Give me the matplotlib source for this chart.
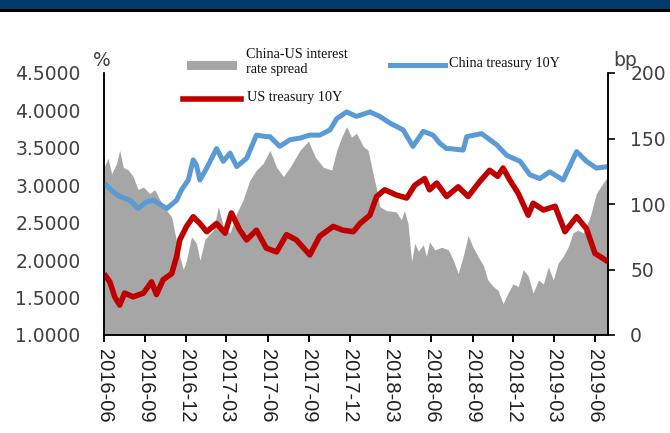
import matplotlib
matplotlib.use("Agg")
import matplotlib.pyplot as plt
import pandas as pd
from matplotlib.lines import Line2D
from matplotlib.patches import Rectangle

# ---------------- data ----------------
china_dates = ["2016-06-01","2016-06-22","2016-07-06","2016-07-29","2016-08-16","2016-09-04",
    "2016-09-19","2016-10-19","2016-11-10","2016-11-21","2016-12-06","2016-12-17","2016-12-24",
    "2017-01-01","2017-01-16","2017-02-07","2017-02-22","2017-03-09","2017-03-24","2017-04-15",
    "2017-05-07","2017-05-29","2017-06-06","2017-06-28","2017-07-21","2017-08-12","2017-09-03",
    "2017-09-25","2017-10-18","2017-11-02","2017-11-24","2017-12-16","2018-01-15","2018-02-06",
    "2018-03-01","2018-03-30","2018-04-21","2018-05-14","2018-06-05","2018-06-20","2018-07-05",
    "2018-07-12","2018-08-11","2018-08-19","2018-09-21","2018-10-25","2018-11-16","2018-12-16",
    "2019-01-07","2019-01-29","2019-02-20","2019-03-22","2019-04-21","2019-05-13","2019-06-04",
    "2019-06-30"]
china_10y = [3.03, 2.91, 2.85, 2.80, 2.69, 2.78,
    2.80, 2.69, 2.80, 2.94, 3.07, 3.34, 3.27,
    3.07, 3.23, 3.49, 3.32, 3.43, 3.25, 3.36,
    3.67, 3.65, 3.65, 3.52, 3.61, 3.63, 3.67,
    3.67, 3.74, 3.89, 3.98, 3.92, 3.98, 3.92,
    3.83, 3.74, 3.52, 3.72, 3.67, 3.56, 3.49,
    3.49, 3.47, 3.65, 3.69, 3.54, 3.40, 3.32,
    3.14, 3.09, 3.18, 3.07, 3.45, 3.32, 3.23,
    3.25]

us_dates = ["2016-06-01","2016-06-14","2016-06-25","2016-07-06","2016-07-17","2016-08-05",
    "2016-08-28","2016-09-15","2016-09-26","2016-10-11","2016-10-30","2016-11-10","2016-11-17",
    "2016-12-02","2016-12-17","2017-01-01","2017-01-16","2017-02-07","2017-02-26","2017-03-12",
    "2017-03-31","2017-04-15","2017-05-07","2017-05-29","2017-06-21","2017-07-13","2017-08-04",
    "2017-09-03","2017-09-25","2017-10-25","2017-11-16","2017-12-09","2017-12-24","2018-01-15",
    "2018-01-30","2018-02-17","2018-03-15","2018-04-07","2018-04-25","2018-05-17","2018-05-28",
    "2018-06-13","2018-07-05","2018-07-31","2018-08-22","2018-09-17","2018-10-09","2018-10-27",
    "2018-11-08","2018-11-23","2018-12-12","2019-01-03","2019-01-14","2019-02-06","2019-03-04",
    "2019-03-26","2019-04-21","2019-05-13","2019-06-01","2019-06-30"]
us_10y = [1.82, 1.71, 1.51, 1.40, 1.56, 1.51,
    1.56, 1.71, 1.54, 1.74, 1.82, 2.05, 2.27,
    2.45, 2.58, 2.49, 2.38, 2.49, 2.36, 2.63,
    2.40, 2.27, 2.40, 2.16, 2.11, 2.34, 2.27,
    2.07, 2.32, 2.45, 2.40, 2.38, 2.49, 2.60,
    2.85, 2.94, 2.87, 2.83, 3.00, 3.09, 2.94,
    3.03, 2.85, 2.98, 2.85, 3.05, 3.20, 3.12,
    3.23, 3.07, 2.89, 2.60, 2.76, 2.67, 2.72,
    2.38, 2.58, 2.42, 2.09, 1.98]

spread_dates = ["2016-06-01","2016-06-10","2016-06-18","2016-06-29","2016-07-06","2016-07-14",
    "2016-07-25","2016-08-05","2016-08-16","2016-08-28","2016-09-11","2016-09-22","2016-10-04",
    "2016-10-19","2016-10-30","2016-11-06","2016-11-17","2016-11-25","2016-12-02","2016-12-13",
    "2016-12-24","2017-01-01","2017-01-12","2017-01-31","2017-02-11","2017-02-22","2017-03-09",
    "2017-03-24","2017-04-07","2017-04-22","2017-05-07","2017-05-22","2017-06-06","2017-06-21",
    "2017-07-06","2017-07-21","2017-08-12","2017-08-31","2017-09-15","2017-10-03","2017-10-22",
    "2017-11-02","2017-11-13","2017-11-24","2017-12-05","2017-12-16","2017-12-31","2018-01-11",
    "2018-01-22","2018-01-30","2018-02-06","2018-02-21","2018-03-15","2018-03-26","2018-04-02",
    "2018-04-10","2018-04-18","2018-04-25","2018-05-03","2018-05-14","2018-05-21","2018-05-28",
    "2018-06-09","2018-06-24","2018-07-09","2018-07-20","2018-07-31","2018-08-11","2018-08-22",
    "2018-09-02","2018-09-13","2018-09-25","2018-10-05","2018-10-17","2018-10-28","2018-11-08",
    "2018-11-19","2018-11-30","2018-12-12","2018-12-23","2019-01-03","2019-01-14","2019-01-26",
    "2019-02-06","2019-02-17","2019-02-28","2019-03-11","2019-03-22","2019-04-02","2019-04-13",
    "2019-04-24","2019-05-06","2019-05-21","2019-06-04","2019-06-19","2019-06-30"]
spread_bp = [128, 135, 123, 131, 141, 128,
    126, 121, 111, 113, 108, 111, 103,
    95, 90, 78, 60, 50, 57, 75,
    70, 57, 73, 80, 98, 83, 78,
    93, 103, 118, 126, 131, 141, 128,
    121, 128, 141, 148, 136, 128, 126,
    141, 151, 159, 151, 154, 144, 141,
    123, 111, 98, 95, 94, 88, 95,
    85, 56, 70, 64, 69, 60, 71,
    65, 67, 65, 57, 47, 60, 76,
    67, 60, 53, 42, 37, 34, 24,
    32, 39, 37, 50, 45, 32, 42,
    39, 52, 42, 55, 60, 67, 78,
    80, 78, 90, 108, 116, 121]

tick_dates = ["2016-06-01","2016-09-01","2016-12-01","2017-03-01","2017-06-01","2017-09-01",
    "2017-12-01","2018-03-01","2018-06-01","2018-09-01","2018-12-01","2019-03-01","2019-06-01"]
tick_labels = ["2016-06","2016-09","2016-12","2017-03","2017-06","2017-09",
    "2017-12","2018-03","2018-06","2018-09","2018-12","2019-03","2019-06"]
left_ticks = [1.0, 1.5, 2.0, 2.5, 3.0, 3.5, 4.0, 4.5]
right_ticks = [0, 50, 100, 150, 200]

# ---------------- figure ----------------
W, H = 670, 433
fig = plt.figure(figsize=(W / 100, H / 100), dpi=100)
fig.patch.set_facecolor("white")

# header band
fig.patches.append(Rectangle((0, 1 - 9 / H), 1, 9 / H, transform=fig.transFigure,
                             facecolor="#003A6B", edgecolor="none"))
fig.patches.append(Rectangle((0, 1 - 12 / H), 1, 3 / H, transform=fig.transFigure,
                             facecolor="#000000", edgecolor="none"))

ax = fig.add_axes([104 / W, 1 - 335 / H, 504 / W, 262 / H])
ax2 = ax.twinx()

sd = pd.to_datetime(spread_dates)
cd = pd.to_datetime(china_dates)
ud = pd.to_datetime(us_dates)

ax2.fill_between(sd, 0, spread_bp, color="#A6A6A6", lw=0)
ax.plot(ud, us_10y, color="#C00000", lw=4.0, solid_capstyle="butt")
ax.plot(cd, china_10y, color="#5B9BD5", lw=3.6, solid_capstyle="butt")

ax.set_zorder(ax2.get_zorder() + 1)
ax.patch.set_visible(False)

xmin, xmax = pd.Timestamp("2016-06-01"), pd.Timestamp("2019-06-30")
ax.set_xlim(xmin, xmax)
ax.set_ylim(1.0, 4.5)
ax2.set_ylim(0, 200)

ax.set_yticks(left_ticks)
ax.set_yticklabels([f"{v:.4f}" for v in left_ticks], fontsize=13.5, color="#404040",
                   family="DejaVu Sans")
ax.tick_params(axis="y", length=0, pad=17)

ax2.set_yticks(right_ticks)
ax2.set_yticklabels([str(v) for v in right_ticks], fontsize=13.5, color="#404040",
                    family="DejaVu Sans")
ax2.tick_params(axis="y", length=5, width=1.2, pad=11, color="black")

ax.set_xticks(pd.to_datetime(tick_dates))
ax.set_xticklabels(tick_labels, rotation=-90, fontsize=14.5, color="#202020",
                   family="Liberation Sans", va="top", ha="center")
ax.tick_params(axis="x", length=5, width=1.4, pad=5, color="black")

for a in (ax, ax2):
    a.spines["top"].set_visible(False)
    for s in ("left", "right", "bottom"):
        a.spines[s].set_linewidth(1.1)
        a.spines[s].set_color("black")

# axis unit labels
fig.text(101.5 / W, 1 - 60 / H, "%", fontsize=13.5, color="#404040", ha="center",
         va="center", family="DejaVu Sans")
fig.text(625 / W, 1 - 60 / H, "bp", fontsize=13.5, color="#404040", ha="center",
         va="center", family="DejaVu Sans")

# legend (manual)
fig.patches.append(Rectangle((187 / W, 1 - 70 / H), 50 / W, 9 / H, transform=fig.transFigure,
                             facecolor="#A6A6A6", edgecolor="none"))
fig.text(246 / W, 1 - 62 / H, "China-US interest\nrate spread", fontsize=10.2,
         family="Liberation Serif", ha="left", va="center", color="#111111", linespacing=1.15)
fig.lines.append(Line2D([183 / W, 241 / W], [1 - 99 / H, 1 - 99 / H], transform=fig.transFigure,
                        color="#C00000", lw=4.0))
fig.text(247 / W, 1 - 97.5 / H, "US treasury 10Y", fontsize=10.2,
         family="Liberation Serif", ha="left", va="center", color="#111111")
fig.lines.append(Line2D([390 / W, 445 / W], [1 - 65 / H, 1 - 65 / H], transform=fig.transFigure,
                        color="#5B9BD5", lw=3.6))
fig.text(449 / W, 1 - 64 / H, "China treasury 10Y", fontsize=10.2,
         family="Liberation Serif", ha="left", va="center", color="#111111")

fig.savefig("out.png", dpi=100, facecolor="white")
